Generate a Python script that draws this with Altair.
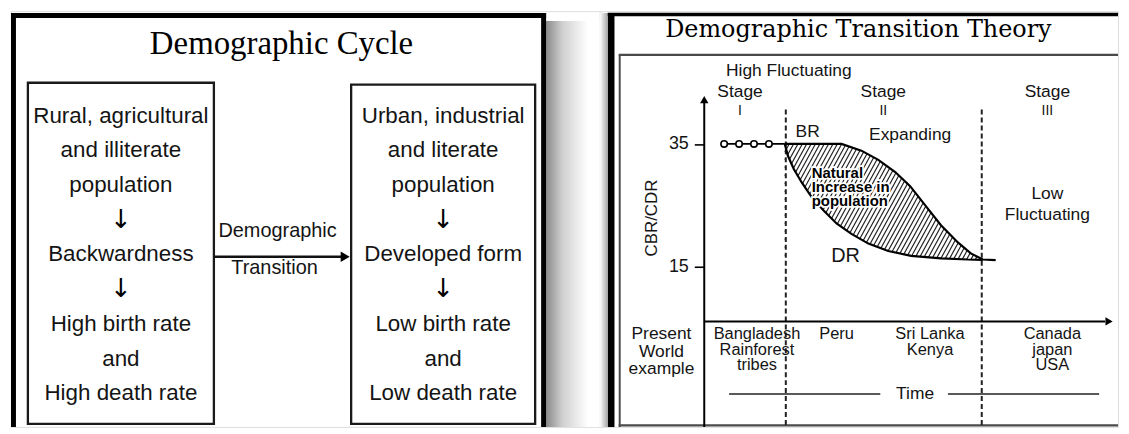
import altair as alt
import numpy as np
import pandas as pd

# ---------------- values ----------------
cycle_title = "Demographic Cycle"
left_box_lines = ["Rural, agricultural", "and illiterate", "population", "↓",
                  "Backwardness", "↓", "High birth rate", "and", "High death rate"]
right_box_lines = ["Urban, industrial", "and literate", "population", "↓",
                   "Developed form", "↓", "Low birth rate", "and", "Low death rate"]
transition_lines = ["Demographic", "Transition"]

dtt_title = "Demographic Transition Theory"
y_ticks = [15, 35]
stage_bounds = [82, 279]                 # time position of stage boundaries
stage1_t = [20, 35, 50, 65]              # high fluctuating stage (circles)
stage1_rate = [35, 35, 35, 35]
br_t = [81, 115, 138, 158, 175, 192, 207, 222, 238, 255, 268, 280, 293]
br_rate = [35.0, 35.0, 35.0, 33.9, 32.4, 30.4, 28.1, 25.0, 21.7, 18.9, 17.1, 16.1, 16.0]
dr_t = [81, 84, 90, 98, 108, 120, 133, 148, 165, 185, 208, 238, 265, 280]
dr_rate = [35.0, 33.1, 30.9, 28.7, 26.3, 24.1, 22.0, 20.3, 18.7, 17.5, 16.7, 16.3, 16.1, 16.05]
stage_numerals = ["I", "II", "III"]
stage_word = "Stage"
note_high = "High Fluctuating"
note_expanding = "Expanding"
note_low = ["Low", "Fluctuating"]
natural_lines = ["Natural", "Increase in", "population"]
examples = [["Bangladesh", "Rainforest", "tribes"], ["Peru"], ["Sri Lanka", "Kenya"],
            ["Canada", "japan", "USA"]]
present_lines = ["Present", "World", "example"]
y_title = "CBR/CDR"
x_title = "Time"
br_label, dr_label = "BR", "DR"

SANS = "Liberation Sans"
ARROWFONT = "DejaVu Sans"
INK = "#141414"

# ======================= LEFT PANEL =======================
LXS = alt.Scale(domain=[8, 600], nice=False, zero=False)
LYS = alt.Scale(domain=[8, 426], reverse=True, nice=False, zero=False)


def LX(f):
    return alt.X(f, type="quantitative", scale=LXS, axis=None)


def LY(f):
    return alt.Y(f, type="quantitative", scale=LYS, axis=None)


shadow_l = alt.LinearGradient(
    gradient="linear", x1=0, x2=1, y1=0, y2=0,
    stops=[alt.GradientStop(color="#8a8a8a", offset=0),
           alt.GradientStop(color="#cfcfcf", offset=0.3),
           alt.GradientStop(color="#ffffff", offset=0.78)])

l_shadow = alt.Chart(pd.DataFrame({"x": [546], "x2": [600], "y": [18], "y2": [426]})).mark_rect(
    fill=shadow_l).encode(x=LX("x"), x2="x2", y=LY("y"), y2="y2")

l_frame_v = alt.Chart(pd.DataFrame({"x": [10.5, 543.5], "y": [10, 10], "y2": [426, 426]})).mark_rule(
    color="black", strokeWidth=5).encode(x=LX("x"), y=LY("y"), y2="y2")
l_frame_h = alt.Chart(pd.DataFrame({"x": [8], "x2": [546], "y": [12.5]})).mark_rule(
    color="black", strokeWidth=5).encode(x=LX("x"), x2="x2", y=LY("y"))

l_boxes = alt.Chart(pd.DataFrame({"x": [25, 350], "x2": [212, 535], "y": [80, 82], "y2": [423, 423]})).mark_rect(
    fillOpacity=0, stroke="#1a1a1a", strokeWidth=2.3).encode(x=LX("x"), x2="x2", y=LY("y"), y2="y2")

l_title = alt.Chart(pd.DataFrame({"text": [cycle_title], "x": [280], "y": [51]})).mark_text(
    font="Liberation Serif", fontSize=33, align="center", baseline="alphabetic", color="black"
).encode(x=LX("x"), y=LY("y"), text="text")

rows = []
for i, s in enumerate(left_box_lines):
    rows.append((s, 118.5, 113 + 34.9 * i, s == "↓"))
for i, s in enumerate(right_box_lines):
    rows.append((s, 442.5, 113 + 34.9 * i, s == "↓"))
box_df = pd.DataFrame(rows, columns=["text", "x", "y", "arrow"])
l_text = alt.Chart(box_df[~box_df["arrow"]]).mark_text(
    font=SANS, fontSize=22.5, align="center", baseline="middle", color=INK
).encode(x=LX("x"), y=LY("y"), text="text")
l_arrows = alt.Chart(box_df[box_df["arrow"]]).mark_text(
    font=ARROWFONT, fontSize=26, align="center", baseline="middle", color="black"
).encode(x=LX("x"), y=LY("y"), text="text")

tr_df = pd.DataFrame({"text": transition_lines, "x": [276, 273], "y": [229, 266]})
l_tr = alt.Chart(tr_df).mark_text(
    font=SANS, fontSize=20, align="center", baseline="middle", color=INK
).encode(x=LX("x"), y=LY("y"), text="text")

l_arrow = alt.Chart(pd.DataFrame({"x": [212], "x2": [340], "y": [255]})).mark_rule(
    color="#111", strokeWidth=2.5).encode(x=LX("x"), x2="x2", y=LY("y"))
l_head = alt.Chart(pd.DataFrame({"x": [344], "y": [255]})).mark_point(
    shape="triangle-right", filled=True, size=110, color="black", opacity=1).encode(x=LX("x"), y=LY("y"))

left = alt.layer(l_shadow, l_frame_v, l_frame_h, l_boxes, l_title, l_text, l_arrows, l_tr, l_arrow,
                 l_head).properties(width=592, height=418)

# ======================= RIGHT PANEL =======================
T0, Y35, PXR = 705.0, 141.5, 6.15


def tx(px):
    return px - T0


def ry(py):
    return 35.0 - (py - Y35) / PXR


XS = alt.Scale(domain=[tx(600), tx(1121)], nice=False, zero=False)
YS = alt.Scale(domain=[ry(426), ry(8)], nice=False, zero=False)
YAX = alt.Axis(values=y_ticks, domain=False, grid=False, ticks=True, tickSize=10, tickWidth=1.6,
               tickColor="black", labelFont=SANS, labelFontSize=18, labelColor=INK, labelPadding=6,
               offset=-(T0 - 600), title=None)


def RX(f):
    return alt.X(f, type="quantitative", scale=XS, axis=None)


def RY(f):
    return alt.Y(f, type="quantitative", scale=YS, axis=YAX)


shadow_r = alt.LinearGradient(
    gradient="linear", x1=0, x2=1, y1=0, y2=0,
    stops=[alt.GradientStop(color="#ffffff", offset=0),
           alt.GradientStop(color="#9a9a9a", offset=1)])
r_shadow = alt.Chart(pd.DataFrame({"t": [tx(600)], "t2": [tx(609)], "r": [ry(10)], "r2": [ry(426)]})).mark_rect(
    fill=shadow_r).encode(x=RX("t"), x2="t2", y=RY("r"), y2="r2")

# inner grey frame
gv = pd.DataFrame({"t": [tx(620)], "r": [ry(52)], "r2": [ry(426)]})
gh = pd.DataFrame({"t": [tx(619), tx(619)], "t2": [tx(1121), tx(1121)], "r": [ry(52), ry(424.5)]})
r_gv = alt.Chart(gv).mark_rule(color="#4a4a4a", strokeWidth=2).encode(x=RX("t"), y=RY("r"), y2="r2")
r_gh = alt.Chart(gh).mark_rule(color="#4a4a4a", strokeWidth=2.2).encode(x=RX("t"), x2="t2", y=RY("r"))
# outer black frame
r_ov = alt.Chart(pd.DataFrame({"t": [tx(611.5)], "r": [ry(9.8)], "r2": [ry(426)]})).mark_rule(
    color="black", strokeWidth=6.5).encode(x=RX("t"), y=RY("r"), y2="r2")
r_oh = alt.Chart(pd.DataFrame({"t": [tx(608)], "t2": [tx(1121)], "r": [ry(11.5)]})).mark_rule(
    color="black", strokeWidth=3.5).encode(x=RX("t"), x2="t2", y=RY("r"))

r_title = alt.Chart(pd.DataFrame({"text": [dtt_title], "t": [tx(860)], "r": [ry(34)]})).mark_text(
    font="DejaVu Serif", fontSize=24, align="center", baseline="alphabetic", color="black"
).encode(x=RX("t"), y=RY("r"), text="text")

# hatch texture between the curves (pattern only)
box_t0, box_t1, r_lo, r_hi = br_t[0], dr_t[-1], 16.0, 35.0
run, step = 64.0, 4.4
hrows = []
for s in np.arange(box_t0 - run, box_t1, step):
    a, b = max(s, box_t0), min(s + run, box_t1)
    if b - a < 0.5:
        continue
    hrows.append((a, r_lo + (a - s) / run * (r_hi - r_lo), b, r_lo + (b - s) / run * (r_hi - r_lo)))
hatch_df = pd.DataFrame(hrows, columns=["t", "r", "t2", "r2"])
r_hatch = alt.Chart(hatch_df).mark_rule(color="#1e1e1e", strokeWidth=1.15).encode(
    x=RX("t"), x2="t2", y=RY("r"), y2="r2")

br_df = pd.DataFrame({"t": br_t, "r": br_rate, "top": [r_hi + 0.6] * len(br_t)})
dr_df = pd.DataFrame({"t": dr_t, "r": dr_rate, "bot": [r_lo - 0.6] * len(dr_t)})
mask_top = alt.Chart(br_df).mark_area(color="white", opacity=1, interpolate="linear").encode(
    x=RX("t"), y=RY("r"), y2="top")
mask_bot = alt.Chart(dr_df).mark_area(color="white", opacity=1, interpolate="linear").encode(
    x=RX("t"), y=RY("r"), y2="bot")

stage_df = pd.DataFrame({"t": stage_bounds, "r": [ry(107)] * 2, "r2": [ry(426)] * 2})
r_stage = alt.Chart(stage_df).mark_rule(color="#222", strokeWidth=2, strokeDash=[5, 3]).encode(
    x=RX("t"), y=RY("r"), y2="r2")

x_axis_r = ry(320)
r_yaxis = alt.Chart(pd.DataFrame({"t": [0], "r": [ry(426)], "r2": [ry(98)]})).mark_rule(
    color="black", strokeWidth=2).encode(x=RX("t"), y=RY("r"), y2="r2")
r_xaxis = alt.Chart(pd.DataFrame({"t": [0], "t2": [tx(1108)], "r": [x_axis_r]})).mark_rule(
    color="black", strokeWidth=2).encode(x=RX("t"), x2="t2", y=RY("r"))
r_heads = alt.Chart(pd.DataFrame({"t": [0, tx(1112)], "r": [ry(97), x_axis_r],
                                  "shape": ["triangle-up", "triangle-right"]})).mark_point(
    filled=True, size=70, color="black", opacity=1).encode(
    x=RX("t"), y=RY("r"), shape=alt.Shape("shape:N", scale=None, legend=None))

time_df = pd.DataFrame({"t": [tx(730), tx(950)], "t2": [tx(882), tx(1102)], "r": [ry(393)] * 2})
r_time = alt.Chart(time_df).mark_rule(color="#222", strokeWidth=1.6).encode(x=RX("t"), x2="t2", y=RY("r"))

r_br = alt.Chart(br_df).mark_line(color="black", strokeWidth=2.2).encode(x=RX("t"), y=RY("r"))
r_dr = alt.Chart(dr_df).mark_line(color="black", strokeWidth=2.2).encode(x=RX("t"), y=RY("r"))
s1_df = pd.DataFrame({"t": stage1_t + [br_t[0]], "r": stage1_rate + [br_rate[0]]})
r_s1line = alt.Chart(s1_df).mark_line(color="black", strokeWidth=1.6).encode(x=RX("t"), y=RY("r"))
r_s1pts = alt.Chart(pd.DataFrame({"t": stage1_t, "r": stage1_rate})).mark_point(
    shape="circle", size=42, fill="white", filled=False, stroke="black", strokeWidth=1.6, opacity=1
).encode(x=RX("t"), y=RY("r"))

# labels (page-positioned annotations)
lab = []
for cx in [741, 885, 1050]:
    lab.append((stage_word, cx, 89))
lab.append((note_high, 790, 68))
lab.append((note_expanding, 912, 133))
lab.append((note_low[0], 1050, 192))
lab.append((note_low[1], 1050, 213))
lab.append((br_label, 809, 130))
lab.append((x_title, 917, 393))
for i, s in enumerate(present_lines):
    lab.append((s, 662, 333 + 17.5 * i))
lab_df = pd.DataFrame({"text": [a[0] for a in lab], "t": [tx(a[1]) for a in lab], "r": [ry(a[2]) for a in lab]})
r_lab = alt.Chart(lab_df).mark_text(font=SANS, fontSize=17.5, align="center", baseline="middle", color=INK).encode(
    x=RX("t"), y=RY("r"), text="text")

num_df = pd.DataFrame({"text": stage_numerals, "t": [tx(741), tx(885), tx(1050)], "r": [ry(108)] * 3})
r_num = alt.Chart(num_df).mark_text(font=SANS, fontSize=14, align="center", baseline="middle", color=INK).encode(
    x=RX("t"), y=RY("r"), text="text")

ex = []
for col, cx in zip(examples, [758, 838, 932, 1055]):
    for i, s in enumerate(col):
        ex.append((s, cx, 333 + 15.5 * i))
ex_df = pd.DataFrame({"text": [a[0] for a in ex], "t": [tx(a[1]) for a in ex], "r": [ry(a[2]) for a in ex]})
r_ex = alt.Chart(ex_df).mark_text(font=SANS, fontSize=16.5, align="center", baseline="middle", color=INK).encode(
    x=RX("t"), y=RY("r"), text="text")

r_dr_lab = alt.Chart(pd.DataFrame({"text": [dr_label], "t": [tx(847)], "r": [ry(254)]})).mark_text(
    font=SANS, fontSize=20, align="center", baseline="middle", color=INK).encode(x=RX("t"), y=RY("r"), text="text")

r_ytitle = alt.Chart(pd.DataFrame({"text": [y_title], "t": [tx(652)], "r": [ry(216)]})).mark_text(
    font=SANS, fontSize=17, align="center", baseline="middle", angle=270, color=INK).encode(
    x=RX("t"), y=RY("r"), text="text")

nat_df = pd.DataFrame({"text": natural_lines, "t": [tx(813)] * 3, "r": [ry(171), ry(185), ry(199)]})
r_nat_halo = alt.Chart(nat_df).mark_text(font=SANS, fontSize=15, fontWeight="bold", align="left", baseline="middle",
                                         color="white", stroke="white", strokeWidth=3.5).encode(
    x=RX("t"), y=RY("r"), text="text")
r_nat = alt.Chart(nat_df).mark_text(font=SANS, fontSize=15, fontWeight="bold", align="left", baseline="middle",
                                    color="black").encode(x=RX("t"), y=RY("r"), text="text")

right = alt.layer(r_shadow, r_gv, r_gh, r_ov, r_oh, r_title, r_hatch, mask_top, mask_bot, r_stage,
                  r_yaxis, r_xaxis, r_heads, r_time, r_s1line, r_br, r_dr, r_s1pts, r_lab, r_num, r_ex,
                  r_dr_lab, r_ytitle, r_nat_halo, r_nat).properties(width=521, height=418)

chart = alt.hconcat(left, right, spacing=0, bounds="flush", padding=0).configure_view(
    stroke=None).configure(background="white")

chart.save("out.html", embed_options={"renderer": "svg", "actions": False})
